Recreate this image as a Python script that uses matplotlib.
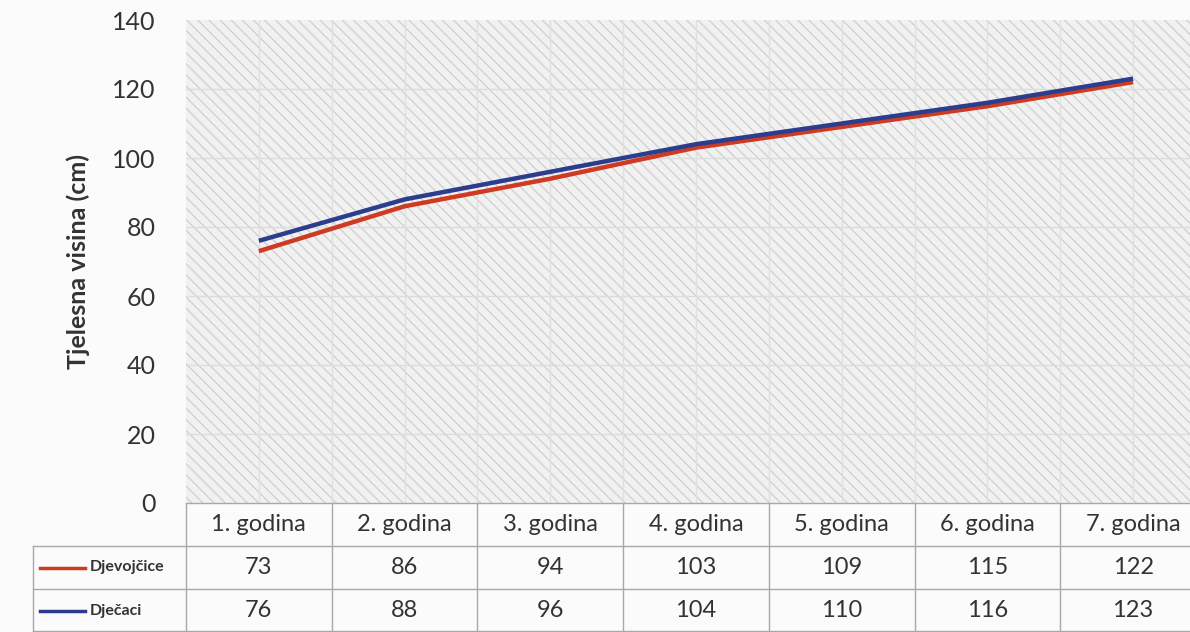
import numpy as np
import matplotlib.pyplot as plt
from matplotlib.patches import Rectangle

plt.rcParams['font.family'] = ['Lato', 'DejaVu Sans']

godine = ['1. godina', '2. godina', '3. godina', '4. godina',
          '5. godina', '6. godina', '7. godina']
djevojcice = [73, 86, 94, 103, 109, 115, 122]
djecaci = [76, 88, 96, 104, 110, 116, 123]
serije = [('Djevojčice', djevojcice, '#cf3a22'),
          ('Dječaci', djecaci, '#2b3d8c')]

W, H = 1190, 632
fig = plt.figure(figsize=(W / 100, H / 100), dpi=100, facecolor='#fbfbfb')

x0px = 186.0
step = 145.7
xmin = -0.5
xmax = xmin + (W - x0px) / step
ytop, ybot = 20, 503

ax = fig.add_axes([x0px / W, (H - ybot) / H, 1 - x0px / W, (ybot - ytop) / H])
ax.set_facecolor('#f1f1f1')
ax.set_xlim(xmin, xmax)
ax.set_ylim(0, 140)

# sivi dijagonalni uzorak pozadine
plt.rcParams['hatch.color'] = '#cfcfcf'
plt.rcParams['hatch.linewidth'] = 0.9
ax.add_patch(Rectangle((0, 0), 1, 1, transform=ax.transAxes, facecolor='none',
                       edgecolor='#cfcfcf', hatch='\\\\\\', lw=0, zorder=0))

for y in range(20, 140, 20):
    ax.axhline(y, color='#dcdcdc', lw=1, zorder=1)
for xv in np.arange(0, 7, 0.5):
    ax.axvline(xv, color='#e0e0e0', lw=1, zorder=1)

x = np.arange(len(godine))
for name, vals, col in serije:
    ax.plot(x, vals, color=col, lw=3.2, solid_capstyle='butt', zorder=3)

ax.set_xticks([])
ax.set_yticks(range(0, 141, 20))
ax.tick_params(axis='y', length=0, pad=22, labelsize=18, labelcolor='#333333')
for s in ax.spines.values():
    s.set_visible(False)
ax.set_ylabel('Tjelesna visina (cm)', fontsize=18, fontweight='bold',
              color='#333333', labelpad=16)

# tablica s podacima
tab = fig.add_axes([x0px / W, 0, 1 - x0px / W, (H - ybot) / H])
tab.set_xlim(xmin, xmax)
tab.set_ylim(0, 3)
tab.axis('off')
lc = '#a8a8a8'
leg_left = xmin - (x0px - 33) / step

for r in [0.02, 1, 2, 3]:
    left = xmin if r == 3 else leg_left
    tab.plot([left, xmax], [r, r], color=lc, lw=1, clip_on=False)
for b in np.arange(-0.5, 6.6, 1):
    tab.plot([b, b], [0, 3], color=lc, lw=1, clip_on=False)
tab.plot([leg_left, leg_left], [0, 2], color=lc, lw=1, clip_on=False)

for i, g in enumerate(godine):
    tab.text(i, 2.5, g, ha='center', va='center', fontsize=17, color='#333333')
for row, (name, vals, col) in enumerate(serije):
    yc = 1.5 - row
    tab.plot([leg_left + 0.05, leg_left + 0.36], [yc, yc], color=col, lw=2.5,
             clip_on=False)
    tab.text(leg_left + 0.39, yc, name, ha='left', va='center', fontsize=11.5,
             fontweight='bold', color='#333333')
    for i, v in enumerate(vals):
        tab.text(i, yc, str(v), ha='center', va='center', fontsize=17,
                 color='#333333')

fig.savefig('out.png', dpi=100, facecolor=fig.get_facecolor())
